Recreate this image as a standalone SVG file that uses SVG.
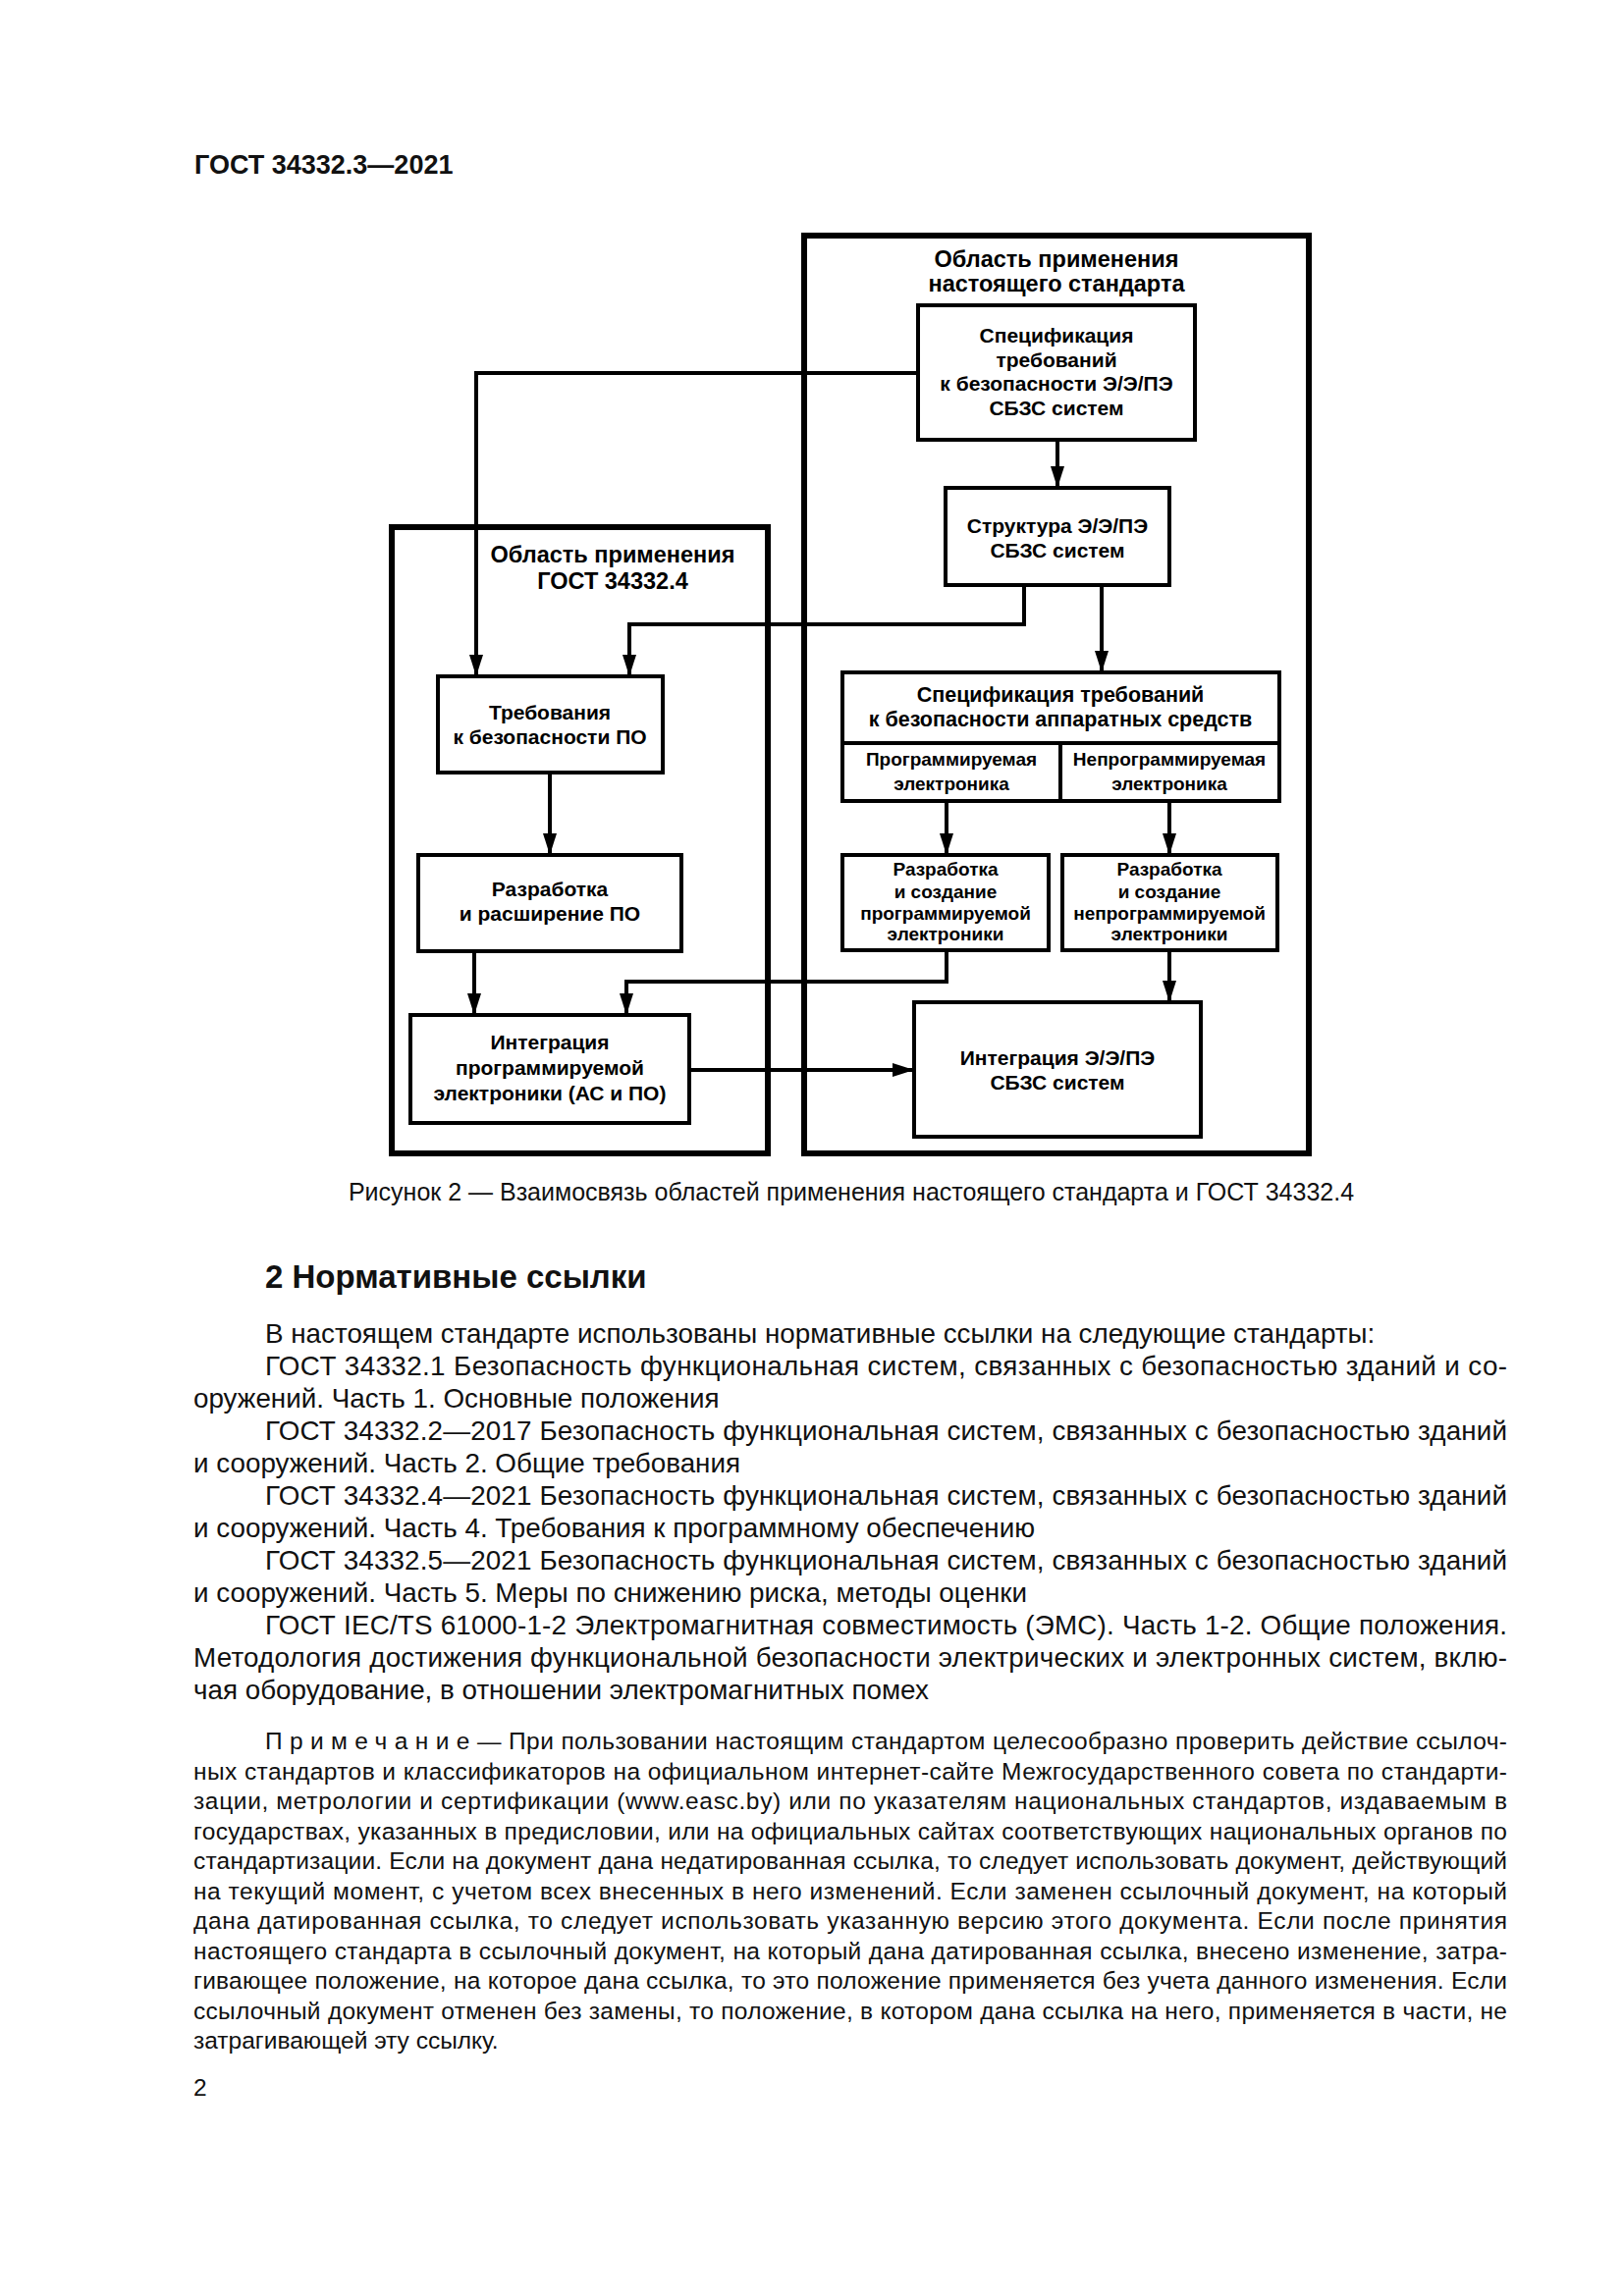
<svg xmlns="http://www.w3.org/2000/svg" width="1654" height="2339" viewBox="0 0 1654 2339">
<defs>
<style>
.frame{fill:none;stroke:#000;stroke-width:6}
.box{fill:#fff;stroke:#000;stroke-width:4}
.conn{fill:none;stroke:#000;stroke-width:4;marker-end:url(#ah)}
.ln{fill:none;stroke:#000;stroke-width:4}
.t{font-family:"Liberation Sans",Arial,sans-serif;font-weight:bold;font-size:21px;text-anchor:middle;fill:#000}
.ts{font-size:19px}
.tt{font-size:23.5px}
.th{font-size:21.5px}
.body{font-family:"Liberation Sans",Arial,sans-serif;font-size:27.8px;fill:#111}
.note{font-size:24.5px}
.cap{font-size:25px}
.hd{font-family:"Liberation Sans",Arial,sans-serif;font-weight:bold;fill:#111}
</style>
<marker id="ah" markerUnits="userSpaceOnUse" markerWidth="22" markerHeight="14" viewBox="0 0 22 14" refX="22" refY="7" orient="auto">
<path d="M0,0 L22,7 L0,14 z" fill="#000"/>
</marker>
</defs>
<rect width="1654" height="2339" fill="#fff"/>

<text class="hd" x="198" y="177" font-size="27">ГОСТ 34332.3—2021</text>

<g id="frame-right">
<rect class="frame" x="819" y="240" width="514" height="935"/>
<text class="t tt" x="1076" y="272">Область применения</text>
<text class="t tt" x="1076" y="297">настоящего стандарта</text>
</g>
<g id="frame-left">
<rect class="frame" x="399" y="537" width="383" height="638"/>
<text class="t tt" x="624" y="573">Область применения</text>
<text class="t tt" x="624" y="600">ГОСТ 34332.4</text>
</g>

<g id="connectors">
<path class="conn" d="M935,380 H485 V689"/>
<path class="conn" d="M1077,448 V497"/>
<path class="conn" d="M1043,596 V636 H641 V689"/>
<path class="conn" d="M1122,596 V685"/>
<path class="conn" d="M560,787 V871"/>
<path class="conn" d="M483,969 V1034"/>
<path class="conn" d="M964,968 V1000 H638 V1034"/>
<path class="conn" d="M964,816 V871"/>
<path class="conn" d="M1191,816 V871"/>
<path class="conn" d="M1191,968 V1021"/>
<path class="conn" d="M702,1090 H931"/>
</g>

<g id="spec">
<rect class="box" x="935" y="311" width="282" height="137"/>
<text class="t" x="1076" y="349">Спецификация</text>
<text class="t" x="1076" y="374">требований</text>
<text class="t" x="1076" y="398">к безопасности Э/Э/ПЭ</text>
<text class="t" x="1076" y="423">СБЗС систем</text>
</g>
<g id="structure">
<rect class="box" x="963" y="497" width="228" height="99"/>
<text class="t" x="1077" y="543">Структура Э/Э/ПЭ</text>
<text class="t" x="1077" y="568">СБЗС систем</text>
</g>
<g id="sw-req">
<rect class="box" x="446" y="689" width="229" height="98"/>
<text class="t" x="560" y="733">Требования</text>
<text class="t" x="560" y="758">к безопасности ПО</text>
</g>
<g id="sw-dev">
<rect class="box" x="426" y="871" width="268" height="98"/>
<text class="t" x="560" y="913">Разработка</text>
<text class="t" x="560" y="938">и расширение ПО</text>
</g>
<g id="pe-int">
<rect class="box" x="418" y="1034" width="284" height="110"/>
<text class="t" x="560" y="1069">Интеграция</text>
<text class="t" x="560" y="1095">программируемой</text>
<text class="t" x="560" y="1121">электроники (АС и ПО)</text>
</g>
<g id="hw-spec">
<rect class="box" x="858" y="685" width="445" height="131"/>
<path class="ln" d="M858,757 H1303 M1080,757 V816"/>
<text class="t th" x="1080" y="715">Спецификация требований</text>
<text class="t th" x="1080" y="740">к безопасности аппаратных средств</text>
<text class="t ts" x="969" y="780">Программируемая</text>
<text class="t ts" x="969" y="805">электроника</text>
<text class="t ts" x="1191" y="780">Непрограммируемая</text>
<text class="t ts" x="1191" y="805">электроника</text>
</g>
<g id="pe-dev">
<rect class="box" x="858" y="871" width="210" height="97"/>
<text class="t ts" x="963" y="892">Разработка</text>
<text class="t ts" x="963" y="915">и создание</text>
<text class="t ts" x="963" y="937">программируемой</text>
<text class="t ts" x="963" y="958">электроники</text>
</g>
<g id="npe-dev">
<rect class="box" x="1082" y="871" width="219" height="97"/>
<text class="t ts" x="1191" y="892">Разработка</text>
<text class="t ts" x="1191" y="915">и создание</text>
<text class="t ts" x="1191" y="937">непрограммируемой</text>
<text class="t ts" x="1191" y="958">электроники</text>
</g>
<g id="sys-int">
<rect class="box" x="931" y="1021" width="292" height="137"/>
<text class="t" x="1077" y="1085">Интеграция Э/Э/ПЭ</text>
<text class="t" x="1077" y="1110">СБЗС систем</text>
</g>

<text class="body cap" x="867" y="1223" text-anchor="middle">Рисунок 2 — Взаимосвязь областей применения настоящего стандарта и ГОСТ 34332.4</text>

<text class="hd" x="270" y="1312" font-size="33">2 Нормативные ссылки</text>

<g id="body-text" class="body">
<text x="270" y="1368">В настоящем стандарте использованы нормативные ссылки на следующие стандарты:</text>
<text x="270" y="1401" textLength="1265" lengthAdjust="spacing">ГОСТ 34332.1 Безопасность функциональная систем, связанных с безопасностью зданий и со-</text>
<text x="197" y="1434">оружений. Часть 1. Основные положения</text>
<text x="270" y="1467" textLength="1265" lengthAdjust="spacing">ГОСТ 34332.2—2017 Безопасность функциональная систем, связанных с безопасностью зданий</text>
<text x="197" y="1500">и сооружений. Часть 2. Общие требования</text>
<text x="270" y="1533" textLength="1265" lengthAdjust="spacing">ГОСТ 34332.4—2021 Безопасность функциональная систем, связанных с безопасностью зданий</text>
<text x="197" y="1566">и сооружений. Часть 4. Требования к программному обеспечению</text>
<text x="270" y="1599" textLength="1265" lengthAdjust="spacing">ГОСТ 34332.5—2021 Безопасность функциональная систем, связанных с безопасностью зданий</text>
<text x="197" y="1632">и сооружений. Часть 5. Меры по снижению риска, методы оценки</text>
<text x="270" y="1665" textLength="1265" lengthAdjust="spacing">ГОСТ IEC/TS 61000-1-2 Электромагнитная совместимость (ЭМС). Часть 1-2. Общие положения.</text>
<text x="197" y="1698" textLength="1338" lengthAdjust="spacing">Методология достижения функциональной безопасности электрических и электронных систем, вклю-</text>
<text x="197" y="1731">чая оборудование, в отношении электромагнитных помех</text>
</g>

<g id="note-text" class="body note">
<text x="270" y="1782" textLength="1265" lengthAdjust="spacing"><tspan letter-spacing="7">Примечани</tspan>е — При пользовании настоящим стандартом целесообразно проверить действие ссылоч-</text>
<text x="197" y="1812.5" textLength="1338" lengthAdjust="spacing">ных стандартов и классификаторов на официальном интернет-сайте Межгосударственного совета по стандарти-</text>
<text x="197" y="1843" textLength="1338" lengthAdjust="spacing">зации, метрологии и сертификации (www.easc.by) или по указателям национальных стандартов, издаваемым в</text>
<text x="197" y="1873.5" textLength="1338" lengthAdjust="spacing">государствах, указанных в предисловии, или на официальных сайтах соответствующих национальных органов по</text>
<text x="197" y="1904" textLength="1338" lengthAdjust="spacing">стандартизации. Если на документ дана недатированная ссылка, то следует использовать документ, действующий</text>
<text x="197" y="1934.5" textLength="1338" lengthAdjust="spacing">на текущий момент, с учетом всех внесенных в него изменений. Если заменен ссылочный документ, на который</text>
<text x="197" y="1965" textLength="1338" lengthAdjust="spacing">дана датированная ссылка, то следует использовать указанную версию этого документа. Если после принятия</text>
<text x="197" y="1995.5" textLength="1338" lengthAdjust="spacing">настоящего стандарта в ссылочный документ, на который дана датированная ссылка, внесено изменение, затра-</text>
<text x="197" y="2026" textLength="1338" lengthAdjust="spacing">гивающее положение, на которое дана ссылка, то это положение применяется без учета данного изменения. Если</text>
<text x="197" y="2056.5" textLength="1338" lengthAdjust="spacing">ссылочный документ отменен без замены, то положение, в котором дана ссылка на него, применяется в части, не</text>
<text x="197" y="2087">затрагивающей эту ссылку.</text>
</g>

<text class="body note" x="197" y="2135">2</text>
</svg>
